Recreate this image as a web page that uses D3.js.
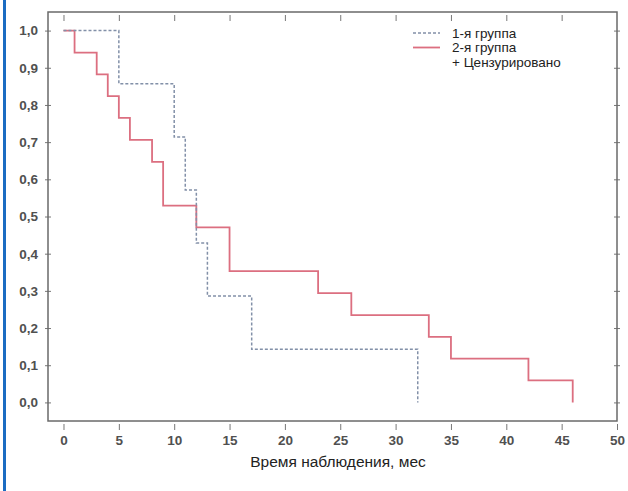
<!DOCTYPE html>
<html>
<head>
<meta charset="utf-8">
<script src="https://cdn.jsdelivr.net/npm/d3@7"></script>
<style>
	body { margin: 0; background: #fff; }
	svg { display: block; font-family: "Liberation Sans", Arial, sans-serif; }
</style>
</head>
<body>
<div id="chart"></div>
<script>
// Kaplan-Meier steps
const group1Times = [0, 5, 10, 11, 12, 13, 17, 32];
const group1Surv = [1.0, 0.857, 0.714, 0.571, 0.429, 0.286, 0.143, 0.0];
const group2Times = [0, 1, 3, 4, 5, 6, 8, 9, 12, 15, 23, 26, 33, 35, 42, 46];
const group2Surv = [1.0, 0.941, 0.882, 0.824, 0.765, 0.706, 0.647, 0.529, 0.471, 0.353, 0.294, 0.235, 0.176, 0.118, 0.059, 0.0];
const xTicks = [0, 5, 10, 15, 20, 25, 30, 35, 40, 45, 50];
const yTicks = [0, 0.1, 0.2, 0.3, 0.4, 0.5, 0.6, 0.7, 0.8, 0.9, 1.0];
const legendLabels = ['1-я группа', '2-я группа', '+ Цензурировано'];
const xTitle = 'Время наблюдения, мес';

const width = 628;
const height = 491;
const margin = {
	"top": 12,
	"right": 11,
	"bottom": 70,
	"left": 48
};

const svg = d3.select('#chart').append('svg')
	.attr('width', width)
	.attr('height', height);

// blue page rule on the left
svg.append('rect')
	.attr('x', 3)
	.attr('y', 0)
	.attr('width', 3)
	.attr('height', height)
	.attr('fill', '#1b6cc2');

const x = d3.scaleLinear().domain([-1.4, 50]).range([margin.left, width - margin.right]);
const y = d3.scaleLinear().domain([-0.05, 1.05]).range([height - margin.bottom, margin.top]);

const fmt = d => d3.format('.1f')(d).replace('.', ',');

// ticks cross the frame on every side
const tickLen = 3;
svg.append('g')
	.attr('transform', `translate(0,${y.range()[0] + tickLen})`)
	.call(d3.axisBottom(x).tickValues(xTicks).tickSize(tickLen * 2).tickPadding(5).tickFormat(d3.format('d')))
	.call(g => g.select('.domain').remove());
svg.append('g')
	.attr('transform', `translate(0,${y.range()[1] + tickLen})`)
	.call(d3.axisBottom(x).tickValues(xTicks.filter(d => d < 50)).tickSize(tickLen * 2).tickFormat(''))
	.call(g => g.select('.domain').remove());
svg.append('g')
	.attr('transform', `translate(${x.range()[0] + tickLen},0)`)
	.call(d3.axisLeft(y).tickValues(yTicks).tickSize(tickLen * 2).tickPadding(7).tickFormat(fmt))
	.call(g => g.select('.domain').remove());
svg.append('g')
	.attr('transform', `translate(${x.range()[1] + tickLen},0)`)
	.call(d3.axisLeft(y).tickValues(yTicks).tickSize(tickLen * 2).tickFormat(''))
	.call(g => g.select('.domain').remove());

svg.selectAll('.tick line').attr('stroke', '#777');
svg.selectAll('.tick text')
	.attr('font-size', '13.5px')
	.attr('font-weight', 'bold')
	.attr('fill', '#505050');

// frame
svg.append('rect')
	.attr('x', x.range()[0])
	.attr('y', y.range()[1])
	.attr('width', x.range()[1] - x.range()[0])
	.attr('height', y.range()[0] - y.range()[1])
	.attr('fill', 'none')
	.attr('stroke', '#6a6a6a')
	.attr('stroke-width', 1.5);

const line = d3.line()
	.x(d => x(d[0]))
	.y(d => y(d[1]))
	.curve(d3.curveStepAfter);

svg.append('path')
	.datum(d3.zip(group2Times, group2Surv))
	.attr('d', line)
	.attr('fill', 'none')
	.attr('stroke', '#dc6f80')
	.attr('stroke-width', 1.8);

svg.append('path')
	.datum(d3.zip(group1Times, group1Surv))
	.attr('d', line)
	.attr('fill', 'none')
	.attr('stroke', '#8290a8')
	.attr('stroke-width', 1.5)
	.attr('stroke-dasharray', '3,2');

// legend
const legend = svg.append('g').attr('transform', 'translate(413,33)');
const legendStyles = [
	{ color: '#8290a8', dash: '3,2', w: 1.5 },
	{ color: '#dc6f80', dash: null, w: 1.8 },
	null
];
legendLabels.forEach((label, i) => {
	const row = legend.append('g').attr('transform', `translate(0,${i * 14.5})`);
	const s = legendStyles[i];
	if (s) {
		row.append('line')
			.attr('x1', 0).attr('x2', 27)
			.attr('stroke', s.color)
			.attr('stroke-width', s.w)
			.attr('stroke-dasharray', s.dash);
	}
	row.append('text')
		.attr('x', 39)
		.attr('dy', '0.35em')
		.attr('font-size', '13.5px')
		.attr('fill', '#222')
		.text(label);
});

svg.append('text')
	.attr('x', 338)
	.attr('y', 467)
	.attr('text-anchor', 'middle')
	.attr('font-size', '15.5px')
	.attr('fill', '#222')
	.text(xTitle);
</script>
</body>
</html>
